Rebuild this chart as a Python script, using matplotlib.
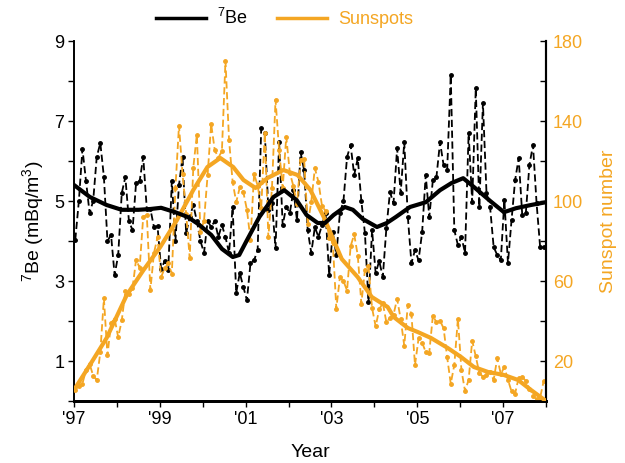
import numpy as np
import matplotlib
matplotlib.use("Agg")
import matplotlib.pyplot as plt
from matplotlib.lines import Line2D

plt.rcParams['font.family'] = ['Liberation Sans', 'DejaVu Sans']
plt.rcParams['mathtext.default'] = 'regular'

orange = '#F4A623'

# monthly 7Be concentration (mBq/m3), Jan 1997 - Dec 2007
be7_1997 = [4.03, 5.0, 6.3, 5.5, 4.7, 5.0, 6.1, 6.45, 5.6, 4.0, 4.15, 3.15]
be7_1998 = [3.65, 5.2, 5.6, 4.5, 4.27, 5.45, 5.5, 6.1, 4.8, 4.8, 4.35, 4.37]
be7_1999 = [3.3, 3.5, 3.27, 5.5, 4.0, 5.4, 6.1, 4.2, 4.6, 4.9, 4.5, 4.0]
be7_2000 = [3.7, 4.5, 4.35, 4.5, 4.1, 4.4, 4.1, 3.7, 4.85, 2.7, 3.2, 2.85]
be7_2001 = [2.52, 3.45, 3.52, 3.77, 6.82, 6.7, 4.77, 4.95, 3.82, 6.47, 4.4, 4.85]
be7_2002 = [4.7, 5.27, 4.52, 6.22, 5.77, 4.27, 3.7, 4.35, 4.1, 4.4, 4.7, 3.15]
be7_2003 = [4.22, 3.65, 4.7, 5.0, 6.1, 6.4, 5.65, 6.07, 5.0, 4.2, 2.47, 4.27]
be7_2004 = [3.2, 3.5, 3.1, 4.32, 5.22, 4.95, 6.32, 5.2, 6.47, 4.6, 3.45, 3.77]
be7_2005 = [3.52, 4.22, 5.65, 4.6, 5.52, 5.6, 6.47, 5.9, 5.77, 8.15, 4.27, 3.9]
be7_2006 = [4.1, 3.7, 6.7, 4.97, 7.82, 4.85, 7.45, 5.2, 4.85, 3.85, 3.65, 3.52]
be7_2007 = [5.02, 3.45, 4.52, 5.52, 6.07, 4.65, 4.7, 5.9, 6.4, 4.95, 3.85, 3.85]

# monthly sunspot number, Jan 1997 - Dec 2007
ssn_1997 = [5.7, 7.6, 8.7, 15.5, 18.5, 12.7, 10.4, 24.4, 51.3, 22.8, 39.0, 41.2]
ssn_1998 = [31.9, 40.3, 54.8, 53.4, 56.3, 70.7, 66.6, 92.2, 92.9, 55.5, 74.0, 81.9]
ssn_1999 = [62.0, 66.3, 68.8, 63.7, 106.4, 137.7, 113.5, 93.7, 71.5, 116.7, 133.2, 84.6]
ssn_2000 = [90.1, 112.9, 138.5, 125.5, 121.6, 124.9, 170.1, 130.5, 109.7, 99.4, 106.8, 104.4]
ssn_2001 = [95.6, 80.6, 113.5, 107.7, 96.6, 134.0, 81.8, 106.4, 150.7, 125.5, 106.5, 132.2]
ssn_2002 = [114.1, 107.4, 98.4, 120.7, 120.8, 88.3, 99.6, 116.4, 109.6, 97.5, 95.0, 81.6]
ssn_2003 = [79.5, 46.2, 61.8, 60.0, 55.2, 77.4, 83.3, 72.7, 48.7, 65.5, 67.3, 46.5]
ssn_2004 = [37.3, 45.8, 49.1, 39.3, 41.5, 43.2, 51.1, 40.9, 27.7, 48.0, 43.5, 17.9]
ssn_2005 = [31.3, 29.2, 24.5, 24.2, 42.7, 39.3, 40.1, 36.4, 21.9, 8.7, 18.0, 41.1]
ssn_2006 = [15.3, 4.9, 10.6, 30.2, 22.3, 13.9, 12.2, 12.9, 14.4, 10.5, 21.4, 13.6]
ssn_2007 = [16.9, 10.6, 4.8, 3.7, 11.7, 12.0, 10.0, 6.2, 2.4, 0.9, 1.7, 10.1]

# smoothed curves
be7_smooth_t = [1997.0, 1997.37, 1997.76, 1998.11, 1998.5, 1998.78, 1999.03, 1999.36,
                1999.65, 1999.9, 2000.2, 2000.45, 2000.7, 2000.85, 2001.02, 2001.32,
                2001.65, 2001.9, 2002.19, 2002.42, 2002.68, 2002.85, 2003.05, 2003.31,
                2003.5, 2003.73, 2004.06, 2004.29, 2004.5, 2004.83, 2005.2, 2005.53,
                2005.8, 2006.07, 2006.32, 2006.7, 2007.02, 2007.3, 2007.65, 2008.0]
be7_smooth_v = [5.4, 5.1, 4.9, 4.78, 4.78, 4.8, 4.83, 4.72,
                4.6, 4.42, 4.15, 3.8, 3.6, 3.65, 4.0, 4.6,
                5.1, 5.27, 5.02, 4.65, 4.45, 4.45, 4.65, 4.85,
                4.78, 4.55, 4.35, 4.45, 4.6, 4.85, 4.97, 5.27,
                5.45, 5.57, 5.35, 5.0, 4.72, 4.82, 4.9, 4.97]

ssn_smooth_t = [1997.0, 1997.37, 1997.76, 1998.23, 1998.62, 1999.01, 1999.4, 1999.78,
                2000.11, 2000.41, 2000.71, 2000.95, 2001.23, 2001.51, 2001.88, 2002.21,
                2002.51, 2002.82, 2002.98, 2003.24, 2003.61, 2003.94, 2004.31, 2004.45,
                2004.78, 2005.01, 2005.32, 2005.71, 2006.02, 2006.32, 2006.65, 2007.02,
                2007.35, 2007.65, 2008.0]
ssn_smooth_v = [5.5, 18, 31.5, 53, 65.5, 77, 90.5, 105.5,
                117, 121.5, 117, 110.5, 106.5, 111.5, 115.5, 113,
                105.5, 92, 84, 71, 62, 52, 47, 42,
                36.5, 34.5, 31.5, 26.5, 22, 17, 14.5, 13,
                10.5, 5.5, 0]

be7 = np.concatenate([be7_1997, be7_1998, be7_1999, be7_2000, be7_2001, be7_2002,
                      be7_2003, be7_2004, be7_2005, be7_2006, be7_2007])
ssn = np.concatenate([ssn_1997, ssn_1998, ssn_1999, ssn_2000, ssn_2001, ssn_2002,
                      ssn_2003, ssn_2004, ssn_2005, ssn_2006, ssn_2007])
t = 1997.03 + np.arange(len(be7)) / 12.0

fig = plt.figure(figsize=(6.25, 4.63), dpi=100)
ax = fig.add_axes([74/625, 1-401/463, (546-74)/625, (401-41)/463])
ax2 = ax.twinx()

ax.set_xlim(1997, 2008)
ax.set_ylim(0, 9)
ax2.set_ylim(0, 180)

ax.plot(t, be7, color='black', ls=(0, (4, 2)), lw=1.3, marker='o', ms=2.5, zorder=2)
ax2.plot(t, ssn, color=orange, ls=(0, (4, 2)), lw=1.3, marker='o', ms=2.5, zorder=2)
ax2.plot(ssn_smooth_t, ssn_smooth_v, color=orange, lw=3, zorder=3)
# 7Be smooth curve on top, still in left-axis data units
ax2.plot(be7_smooth_t, be7_smooth_v, color='black', lw=3, zorder=4,
         transform=ax.transData)

years = np.arange(1997, 2009)
ax.set_xticks(years)
ax.set_xticklabels(["'%02d" % (y % 100) if y % 2 == 1 else '' for y in years])
ax.set_yticks(range(0, 10))
ax.set_yticklabels([str(v) if v % 2 == 1 else '' for v in range(0, 10)])
ax2.set_yticks(range(0, 181, 20))
ax2.set_yticklabels([str(v) if v % 40 == 20 else '' for v in range(0, 181, 20)])

ax.tick_params(axis='both', direction='out', length=4, width=1, labelsize=13, pad=3)
ax2.tick_params(axis='y', direction='in', length=4, width=1, labelsize=13,
                labelcolor=orange, pad=5)

for a in (ax, ax2):
    a.spines['top'].set_visible(False)
    a.spines['left'].set_linewidth(1.2)
    a.spines['right'].set_linewidth(1.5)
    a.spines['bottom'].set_linewidth(2)

ax.set_xlabel('Year', fontsize=14, labelpad=12)
ax.set_ylabel(r'$^{7}$Be (mBq/m$^{3}$)', fontsize=14, labelpad=6)
ax2.set_ylabel('Sunspot number', fontsize=14, color=orange, labelpad=12)

handles = [Line2D([], [], color='black', lw=2.5), Line2D([], [], color=orange, lw=2.5)]
leg = fig.legend(handles, [r'$^{7}$Be', 'Sunspots'], loc='center', ncol=2,
                 bbox_to_anchor=(0.455, 1-18/463), frameon=False, fontsize=13,
                 handlelength=2.8, columnspacing=1.6, handletextpad=0.6)
leg.get_texts()[1].set_color(orange)

fig.savefig('out.png', dpi=100)
